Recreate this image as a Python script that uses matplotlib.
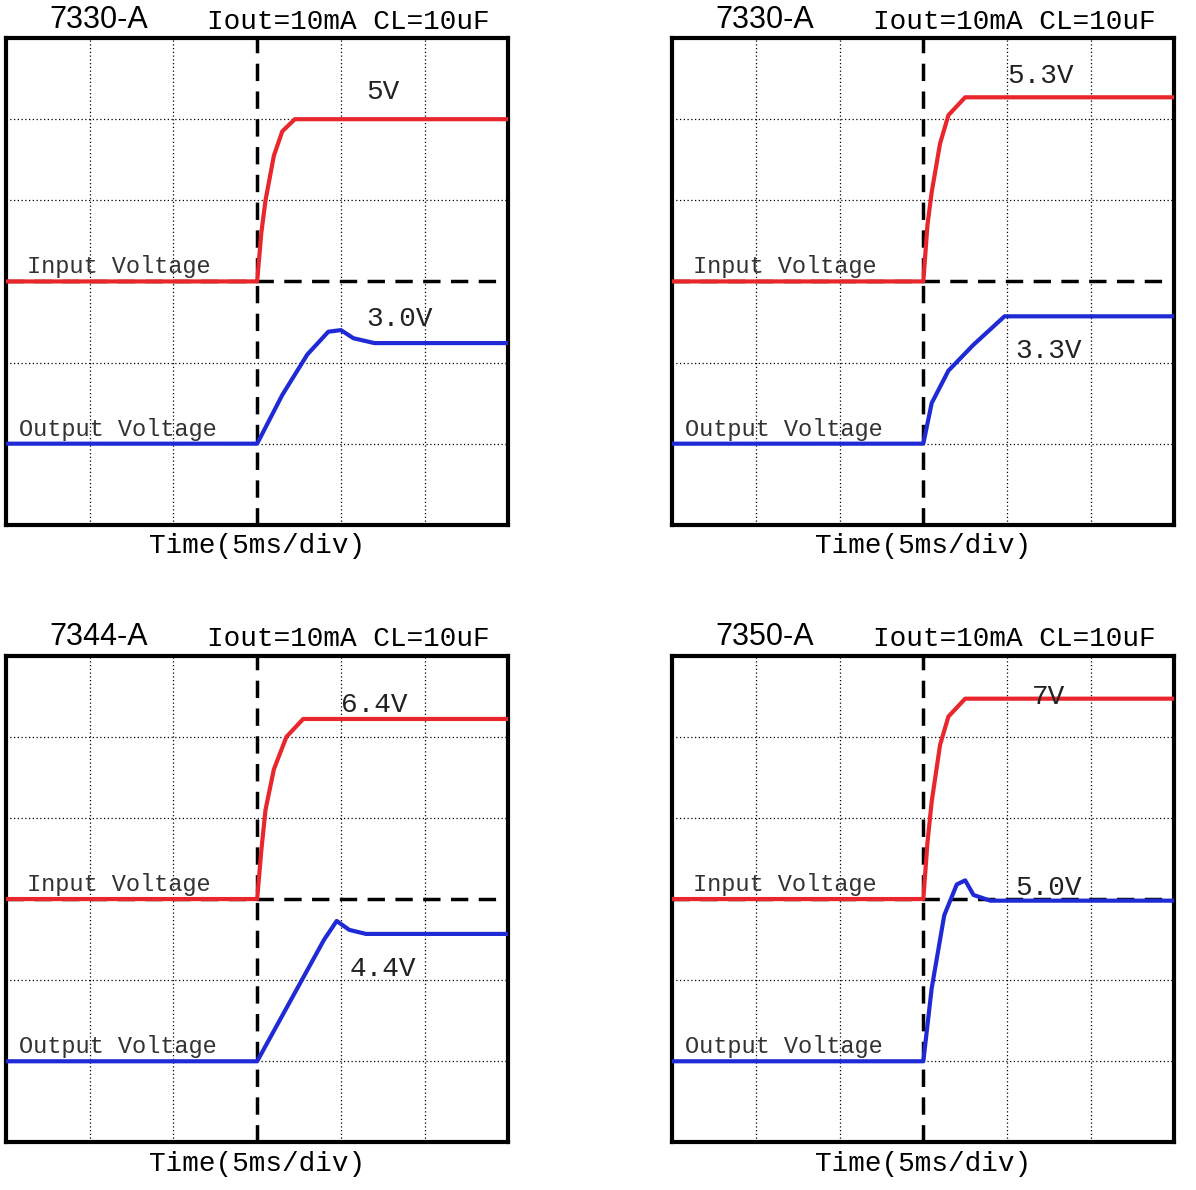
import matplotlib
matplotlib.use("Agg")
import matplotlib.pyplot as plt

titles_part = ["7330-A", "7330-A", "7344-A", "7350-A"]
cond = "Iout=10mA CL=10uF"
xlabel = "Time(5ms/div)"

in_x = [
    [0, 3.0, 3.05, 3.1, 3.2, 3.3, 3.45, 6],
    [0, 3.0, 3.05, 3.1, 3.2, 3.3, 3.5, 6],
    [0, 3.0, 3.05, 3.1, 3.2, 3.35, 3.55, 6],
    [0, 3.0, 3.05, 3.1, 3.2, 3.3, 3.5, 6],
]
in_y = [
    [3, 3, 3.6, 4.0, 4.55, 4.85, 5.0, 5.0],
    [3, 3, 3.7, 4.1, 4.7, 5.05, 5.27, 5.27],
    [3, 3, 3.6, 4.1, 4.6, 5.0, 5.22, 5.22],
    [3, 3, 3.7, 4.2, 4.9, 5.25, 5.47, 5.47],
]
out_x = [
    [0, 3.0, 3.3, 3.6, 3.85, 4.0, 4.15, 4.4, 6],
    [0, 3.0, 3.1, 3.3, 3.6, 3.97, 6],
    [0, 3.0, 3.4, 3.8, 3.95, 4.1, 4.3, 6],
    [0, 3.0, 3.1, 3.25, 3.4, 3.5, 3.6, 3.8, 6],
]
out_y = [
    [1, 1, 1.6, 2.1, 2.38, 2.4, 2.3, 2.24, 2.24],
    [1, 1, 1.5, 1.9, 2.22, 2.57, 2.57],
    [1, 1, 1.75, 2.5, 2.73, 2.62, 2.57, 2.57],
    [1, 1, 1.9, 2.8, 3.18, 3.23, 3.05, 2.98, 2.98],
]
val_in = ["5V", "5.3V", "6.4V", "7V"]
val_in_pos = [(4.3, 5.25), (4.0, 5.45), (4.0, 5.3), (4.3, 5.4)]
val_out = ["3.0V", "3.3V", "4.4V", "5.0V"]
val_out_pos = [(4.3, 2.45), (4.1, 2.05), (4.1, 2.05), (4.1, 3.05)]

fig = plt.figure(figsize=(11.96, 11.90), dpi=100)
lefts = [0.005, 0.562, 0.005, 0.562]
bottoms = [0.559, 0.559, 0.040, 0.040]
mono = "Liberation Mono"
for i in range(4):
    ax = fig.add_axes([lefts[i], bottoms[i], 0.42, 0.409])
    ax.set_xlim(0, 6); ax.set_ylim(0, 6)
    ax.set_xticks([]); ax.set_yticks([])
    for s in ax.spines.values():
        s.set_linewidth(3)
    for g in [1, 2, 4, 5]:
        ax.axvline(g, color="black", lw=0.9, ls=(0, (1, 2)))
        ax.axhline(g, color="black", lw=0.9, ls=(0, (1, 2)))
    ax.axvline(3, color="black", lw=2.5, ls=(0, (5, 3)))
    ax.axhline(3, color="black", lw=2.5, ls=(0, (5, 3)))
    ax.plot(in_x[i], in_y[i], color="#e8262b", lw=3, zorder=3)
    ax.plot(out_x[i], out_y[i], color="#1f2ad6", lw=3, zorder=3)
    ax.text(0.25, 3.1, "Input Voltage", family=mono, fontsize=17, color="#333333")
    ax.text(0.15, 1.1, "Output Voltage", family=mono, fontsize=17, color="#333333")
    ax.text(*val_in_pos[i], val_in[i], family=mono, fontsize=20, color="#222222")
    ax.text(*val_out_pos[i], val_out[i], family=mono, fontsize=20, color="#222222")
    ax.text(0.52, 6.04, titles_part[i], fontsize=22, family="Liberation Sans", va="bottom")
    ax.text(2.4, 6.04, cond, fontsize=20, family=mono, va="bottom")
    ax.text(3.0, -0.1, xlabel, fontsize=20, family=mono, ha="center", va="top")

fig.savefig("out.png", dpi=100)
